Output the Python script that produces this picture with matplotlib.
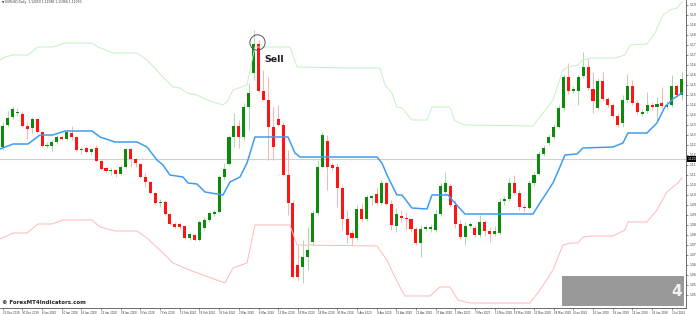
import matplotlib
matplotlib.use("Agg")
import matplotlib.pyplot as plt
import matplotlib.transforms as mtransforms
from matplotlib.patches import Rectangle

# daily candles
opens = [1.1265, 1.1375, 1.1415, 1.1435, 1.1430, 1.1370, 1.1360, 1.1405, 1.1340, 1.1270,
         1.1270, 1.1290, 1.1315, 1.1305, 1.1335, 1.1315, 1.1250, 1.1260, 1.1240, 1.1260,
         1.1195, 1.1160, 1.1145, 1.1150, 1.1130, 1.1165, 1.1255, 1.1205, 1.1180, 1.1115,
         1.1090, 1.1035, 1.0985, 1.0990, 1.0930, 1.0880, 1.0880, 1.0870, 1.0810, 1.0825,
         1.0800, 1.0860, 1.0900, 1.0930, 1.0940, 1.1115, 1.1180, 1.1315, 1.1370, 1.1315,
         1.1465, 1.1635, 1.1780, 1.1545, 1.1500, 1.1365, 1.1405, 1.1375, 1.1125, 1.0985,
         1.0675, 1.0665, 1.0715, 1.0790, 1.0935, 1.1165, 1.1295, 1.1175, 1.1165, 1.1060,
         1.0905, 1.0835, 1.0810, 1.0955, 1.0905, 1.1010, 1.1030, 1.0985, 1.1085, 1.0980,
         1.0870, 1.0920, 1.0910, 1.0905, 1.0855, 1.0785, 1.0855, 1.0855, 1.0850, 1.0930,
         1.1040, 1.1070, 1.0975, 1.0880, 1.0815, 1.0870, 1.0860, 1.0825, 1.0890, 1.0845,
         1.0830, 1.0835, 1.0995, 1.1005, 1.1085, 1.1035, 1.0965, 1.0960, 1.1085, 1.1130,
         1.1230, 1.1285, 1.1315, 1.1365, 1.1460, 1.1615, 1.1545, 1.1545, 1.1620, 1.1665,
         1.1555, 1.1460, 1.1595, 1.1505, 1.1475, 1.1420, 1.1385, 1.1500, 1.1570, 1.1485,
         1.1430, 1.1445, 1.1475, 1.1465, 1.1485, 1.1465, 1.1475, 1.1570, 1.1525]
highs = [1.1390, 1.1445, 1.1470, 1.1460, 1.1445, 1.1390, 1.1415, 1.1410, 1.1345, 1.1290,
         1.1300, 1.1325, 1.1325, 1.1350, 1.1370, 1.1320, 1.1265, 1.1270, 1.1260, 1.1275,
         1.1200, 1.1165, 1.1160, 1.1155, 1.1175, 1.1260, 1.1260, 1.1210, 1.1185, 1.1135,
         1.1095, 1.1040, 1.1005, 1.1000, 1.0935, 1.0890, 1.0890, 1.0875, 1.0840, 1.0830,
         1.0900, 1.0915, 1.0940, 1.0950, 1.1125, 1.1185, 1.1325, 1.1435, 1.1400, 1.1485,
         1.1585, 1.1850, 1.1800, 1.1650, 1.1615, 1.1465, 1.1475, 1.1390, 1.1250, 1.1000,
         1.0775, 1.0800, 1.0865, 1.0950, 1.1200, 1.1340, 1.1325, 1.1185, 1.1185, 1.1075,
         1.0950, 1.0850, 1.0975, 1.0985, 1.1025, 1.1025, 1.1060, 1.1100, 1.1090, 1.1000,
         1.0960, 1.0950, 1.0940, 1.0910, 1.0865, 1.0875, 1.0875, 1.0880, 1.0950, 1.1085,
         1.1140, 1.1085, 1.1000, 1.0900, 1.0890, 1.0890, 1.0875, 1.0925, 1.0900, 1.0865,
         1.0870, 1.1010, 1.1020, 1.1110, 1.1125, 1.1050, 1.0980, 1.1100, 1.1140, 1.1245,
         1.1275, 1.1330, 1.1380, 1.1475, 1.1630, 1.1685, 1.1570, 1.1625, 1.1740, 1.1710,
         1.1640, 1.1610, 1.1640, 1.1515, 1.1485, 1.1435, 1.1525, 1.1630, 1.1600, 1.1500,
         1.1455, 1.1540, 1.1490, 1.1515, 1.1565, 1.1495, 1.1625, 1.1580, 1.1640]
lows = [1.1250, 1.1365, 1.1405, 1.1420, 1.1365, 1.1305, 1.1335, 1.1335, 1.1265, 1.1260,
        1.1245, 1.1280, 1.1300, 1.1295, 1.1300, 1.1245, 1.1230, 1.1235, 1.1225, 1.1190,
        1.1150, 1.1140, 1.1125, 1.1115, 1.1125, 1.1160, 1.1165, 1.1165, 1.1110, 1.1065,
        1.1030, 1.0980, 1.0965, 1.0925, 1.0875, 1.0860, 1.0855, 1.0805, 1.0800, 1.0795,
        1.0795, 1.0850, 1.0890, 1.0920, 1.0935, 1.1100, 1.1175, 1.1265, 1.1260, 1.1300,
        1.1350, 1.1600, 1.1540, 1.1495, 1.1200, 1.1200, 1.1370, 1.1120, 1.0925, 1.0610,
        1.0600, 1.0585, 1.0650, 1.0775, 1.0925, 1.1160, 1.1050, 1.1150, 1.0965, 1.0850,
        1.0785, 1.0775, 1.0800, 1.0890, 1.0895, 1.0975, 1.0975, 1.0975, 1.0975, 1.0850,
        1.0840, 1.0890, 1.0850, 1.0840, 1.0775, 1.0715, 1.0845, 1.0840, 1.0840, 1.0920,
        1.1025, 1.0965, 1.0860, 1.0805, 1.0775, 1.0860, 1.0815, 1.0815, 1.0820, 1.0790,
        1.0820, 1.0825, 1.0975, 1.0995, 1.1025, 1.0950, 1.0940, 1.0955, 1.1070, 1.1125,
        1.1220, 1.1275, 1.1305, 1.1360, 1.1450, 1.1530, 1.1535, 1.1475, 1.1610, 1.1550,
        1.1435, 1.1450, 1.1495, 1.1465, 1.1410, 1.1365, 1.1365, 1.1490, 1.1475, 1.1430,
        1.1420, 1.1435, 1.1450, 1.1390, 1.1460, 1.1455, 1.1465, 1.1515, 1.1500]
closes = [1.1370, 1.1410, 1.1455, 1.1440, 1.1370, 1.1355, 1.1405, 1.1340, 1.1270, 1.1275,
          1.1290, 1.1315, 1.1305, 1.1340, 1.1315, 1.1250, 1.1255, 1.1240, 1.1255, 1.1195,
          1.1155, 1.1145, 1.1150, 1.1130, 1.1165, 1.1255, 1.1205, 1.1185, 1.1115, 1.1090,
          1.1035, 1.0985, 1.0990, 1.0930, 1.0880, 1.0865, 1.0865, 1.0810, 1.0830, 1.0800,
          1.0890, 1.0900, 1.0935, 1.0940, 1.1115, 1.1155, 1.1315, 1.1370, 1.1315, 1.1465,
          1.1535, 1.1780, 1.1545, 1.1500, 1.1365, 1.1265, 1.1375, 1.1125, 1.0985, 1.0615,
          1.0615, 1.0715, 1.0750, 1.0935, 1.1165, 1.1325, 1.1165, 1.1160, 1.1060, 1.0905,
          1.0825, 1.0810, 1.0955, 1.0905, 1.1015, 1.1020, 1.0985, 1.1085, 1.0980, 1.0875,
          1.0930, 1.0910, 1.0905, 1.0855, 1.0785, 1.0855, 1.0865, 1.0865, 1.0930, 1.1070,
          1.1085, 1.0975, 1.0880, 1.0815, 1.0870, 1.0880, 1.0825, 1.0890, 1.0845, 1.0830,
          1.0845, 1.0990, 1.1005, 1.1085, 1.1035, 1.0965, 1.0960, 1.1085, 1.1125, 1.1230,
          1.1260, 1.1315, 1.1365, 1.1460, 1.1615, 1.1545, 1.1555, 1.1615, 1.1665, 1.1560,
          1.1495, 1.1595, 1.1505, 1.1475, 1.1420, 1.1375, 1.1500, 1.1570, 1.1485, 1.1440,
          1.1440, 1.1475, 1.1465, 1.1480, 1.1470, 1.1475, 1.1570, 1.1525, 1.1605]

# channel lines: vertices (bar index, price)
upper_x = [-0.55, 0.47, 2.09, 5.14, 7.17, 10.22, 12.66, 18.15, 19.37, 22.42, 27.3, 29.33,
           32.58, 34.61, 36.04, 37.46, 39.49, 41.52, 44.78, 45.59, 46.81, 49.66, 50.26,
           51.28, 58.39, 59.82, 69.57, 76.69, 77.7, 79.13, 80.14, 81.16, 83.19, 86.24,
           87.26, 90.91, 91.93, 93.96, 107.79, 109.82, 111.85, 113.88, 114.9, 116.94,
           117.95, 119.78, 124.45, 126.48, 127.5, 130.96, 132.58, 134.21, 135.63, 137.05, 138.07]
upper_y = [1.1700, 1.1715, 1.1725, 1.1725, 1.1765, 1.1765, 1.1785, 1.1785, 1.1765, 1.1735,
           1.1735, 1.1700, 1.1615, 1.1565, 1.1560, 1.1535, 1.1525, 1.1500, 1.1475, 1.1490,
           1.1550, 1.1575, 1.1650, 1.1765, 1.1765, 1.1665, 1.1660, 1.1660, 1.1575, 1.1535,
           1.1465, 1.1460, 1.1400, 1.1400, 1.1465, 1.1465, 1.1395, 1.1375, 1.1370, 1.1435,
           1.1500, 1.1650, 1.1665, 1.1675, 1.1700, 1.1710, 1.1710, 1.1725, 1.1775, 1.1780,
           1.1835, 1.1925, 1.1950, 1.1960, 1.1990]
lower_x = [-0.55, 2.09, 4.94, 7.17, 10.02, 12.26, 18.15, 19.78, 22.83, 27.3, 29.33, 32.58,
           34.61, 37.46, 40.71, 45.18, 46.81, 49.66, 51.28, 58.39, 59.82, 76.08, 78.11,
           79.33, 80.75, 81.77, 86.85, 88.88, 90.91, 92.54, 94.98, 107.18, 109.21, 111.85,
           113.88, 115.31, 116.94, 117.95, 119.78, 124.05, 126.48, 127.09, 130.96, 132.99,
           135.02, 136.24, 137.26, 138.07]
lower_y = [1.0805, 1.0835, 1.0835, 1.0880, 1.0880, 1.0900, 1.0900, 1.0865, 1.0845, 1.0845,
           1.0810, 1.0735, 1.0685, 1.0655, 1.0625, 1.0585, 1.0660, 1.0685, 1.0875, 1.0875,
           1.0775, 1.0770, 1.0700, 1.0635, 1.0565, 1.0520, 1.0520, 1.0565, 1.0565, 1.0500,
           1.0485, 1.0485, 1.0550, 1.0650, 1.0775, 1.0785, 1.0785, 1.0815, 1.0820, 1.0820,
           1.0850, 1.0890, 1.0890, 1.0950, 1.1040, 1.1065, 1.1085, 1.1110]
mid_x = [-0.55, 2.09, 5.14, 7.58, 10.22, 12.66, 18.15, 19.78, 22.83, 27.3, 29.33, 31.36,
         32.58, 34.0, 36.65, 37.66, 39.49, 41.12, 44.78, 46.2, 48.23, 49.66, 51.28, 57.99,
         59.41, 60.43, 76.08, 77.09, 78.31, 80.14, 81.16, 83.19, 86.24, 87.26, 90.51, 91.93,
         93.96, 107.79, 109.21, 111.85, 113.27, 114.29, 116.73, 117.95, 124.05, 126.08,
         127.09, 130.96, 132.99, 134.61, 136.24, 138.07]
mid_y = [1.1255, 1.1280, 1.1280, 1.1325, 1.1325, 1.1345, 1.1345, 1.1315, 1.1290, 1.1290,
         1.1265, 1.1200, 1.1175, 1.1125, 1.1115, 1.1085, 1.1080, 1.1040, 1.1025, 1.1090,
         1.1115, 1.1185, 1.1315, 1.1315, 1.1235, 1.1215, 1.1215, 1.1185, 1.1115, 1.1025,
         1.1025, 1.0960, 1.0955, 1.1025, 1.1025, 1.0985, 1.0930, 1.0930, 1.0985, 1.1085,
         1.1165, 1.1225, 1.1230, 1.1260, 1.1265, 1.1285, 1.1335, 1.1335, 1.1385, 1.1465,
         1.1505, 1.1535]

bid_price = 1.1205
date_ticks = ["23 Dec 2019", "30 Dec 2019", "6 Jan 2020", "10 Jan 2020", "16 Jan 2020",
              "22 Jan 2020", "28 Jan 2020", "3 Feb 2020", "7 Feb 2020", "13 Feb 2020",
              "19 Feb 2020", "25 Feb 2020", "2 Mar 2020", "6 Mar 2020", "12 Mar 2020",
              "18 Mar 2020", "24 Mar 2020", "30 Mar 2020", "3 Apr 2020", "9 Apr 2020",
              "15 Apr 2020", "21 Apr 2020", "27 Apr 2020", "1 May 2020", "7 May 2020",
              "13 May 2020", "19 May 2020", "25 May 2020", "29 May 2020", "4 Jun 2020",
              "10 Jun 2020", "16 Jun 2020", "22 Jun 2020", "26 Jun 2020", "2 Jul 2020"]

fig = plt.figure(figsize=(6.96, 3.14), dpi=100)
ax = fig.add_axes([0, 6 / 314, 686 / 696, 308 / 314])

ax.axhline(bid_price, color="#d0d0d0", lw=0.8, zorder=1)

# candles
for i in range(len(opens)):
    o, h, l, c = opens[i], highs[i], lows[i], closes[i]
    up = c >= o
    body_col = "#0b8a0b" if up else "#ff1414"
    wick_col = "#a9d9a9" if up else "#ffb0b0"
    ax.vlines(i, l, h, color=wick_col, lw=0.7, zorder=2)
    hgt = max(abs(c - o), 0.0004)
    ax.bar(i, hgt, bottom=min(o, c), width=0.62, color=body_col, lw=0, zorder=3)

ax.plot(upper_x, upper_y, color="#c4f0c4", lw=0.7, zorder=4, solid_joinstyle="round")
ax.plot(lower_x, lower_y, color="#ffb8b8", lw=0.7, zorder=4, solid_joinstyle="round")
ax.plot(mid_x, mid_y, color="#3f9cf2", lw=1.1, zorder=4, solid_joinstyle="round")

# sell mark at the top
peak = highs.index(max(highs))
ax.plot(peak + 0.6, opens[peak + 1] + 0.001, "o", ms=11, mfc="none", mec="#555555",
        mew=0.7, zorder=6)
ax.text(peak + 2.2, closes[peak] - 0.0075, "Sell", fontsize=6.8, fontweight="bold",
        color="#222222", va="center", ha="left", zorder=6)

ax.set_xlim(-0.55, 138.9)
ax.set_ylim(1.0460, 1.2000)

for s in ["top", "left"]:
    ax.spines[s].set_visible(False)
for s in ["right", "bottom"]:
    ax.spines[s].set_color("#555555")
    ax.spines[s].set_linewidth(0.6)

ax.yaxis.tick_right()
yt = [1.1975 - 0.005 * k for k in range(30)]
ax.set_yticks(yt)
ax.set_yticklabels(["%.4f" % v for v in yt])
ax.tick_params(axis="y", labelsize=2.2, length=1.5, width=0.4, pad=1, colors="#333333")

ax.set_xticks(range(0, 4 * len(date_ticks), 4))
ax.set_xticklabels(date_ticks, ha="left")
ax.tick_params(axis="x", labelsize=1.9, length=1.5, width=0.4, pad=0.8, colors="#333333")

# current price tag on the right scale
trans = mtransforms.blended_transform_factory(ax.transAxes, ax.transData)
ax.text(1.002, bid_price, "%.5f" % bid_price, transform=trans, fontsize=2.2, color="white",
        va="center", ha="left", bbox=dict(boxstyle="square,pad=0.2", fc="black", ec="none"),
        clip_on=False)

# header and watermark
fig.text(0.003, 1 - 1.5 / 314, "\u25bc EURUSD,Daily  1.12050 1.12088 1.11966 1.12050",
         fontsize=2.2, color="#333333", va="center")
fig.text(2 / 696, 1 - 302 / 314, "\u00a9 ForexMT4Indicators.com", fontsize=4,
         fontweight="bold", color="#222222", va="center")

fig.patches.append(Rectangle((562 / 696, 8 / 314), 122 / 696, 30 / 314,
                             transform=fig.transFigure, fc="#999999", ec="none", zorder=10))
fig.text(677 / 696, 1 - 291 / 314, "4", fontsize=11, fontweight="bold", color="#f2f2f2",
         ha="center", va="center", zorder=11)

fig.savefig("out.png", dpi=100)
